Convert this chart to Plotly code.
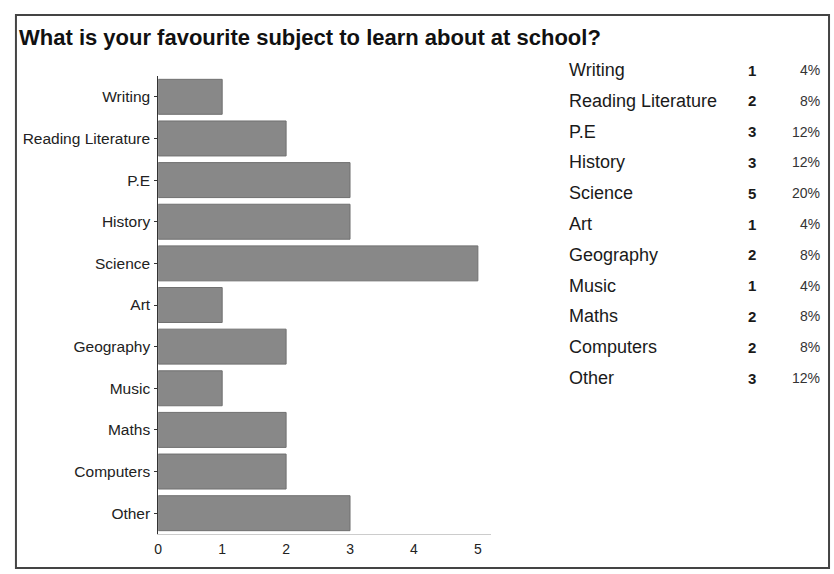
import plotly.graph_objects as go

subjects = ["Writing", "Reading Literature", "P.E", "History", "Science", "Art",
            "Geography", "Music", "Maths", "Computers", "Other"]
ylabels = ["Writing", "Reading Literature", "P.E", "History", "Science", "Art",
           "Geography", "Music", "Maths", "Computers", "Other"]
counts = [1, 2, 3, 3, 5, 1, 2, 1, 2, 2, 3]
percents = ["4%", "8%", "12%", "12%", "20%", "4%", "8%", "4%", "8%", "8%", "12%"]
xticks = [0, 1, 2, 3, 4, 5]
title = "What is your favourite subject to learn about at school?"

W, H = 834, 574
def px(x): return x / W
def py(y): return 1 - y / H

fig = go.Figure()
fig.add_trace(go.Bar(
    x=counts, y=ylabels, orientation="h",
    marker=dict(color="#888888", line=dict(color="#707070", width=1)),
    width=0.84, showlegend=False, hoverinfo="x+y",
))

font = "Liberation Sans, Arial, sans-serif"
ann = [dict(text="<b>" + title + "</b>", x=px(13), y=py(37), xref="paper", yref="paper",
            xanchor="left", yanchor="middle", showarrow=False,
            font=dict(family=font, size=22, color="#111"))]
row0, step = 70, 30.8
for i, (s, c, p) in enumerate(zip(subjects, counts, percents)):
    yy = py(row0 + i * step)
    ann.append(dict(text=s, x=px(566), y=yy, xref="paper", yref="paper", xanchor="left",
                    yanchor="middle", showarrow=False, font=dict(family=font, size=18, color="#1a1a1a")))
    ann.append(dict(text="<b>" + str(c) + "</b>", x=px(758), y=yy, xref="paper", yref="paper", xanchor="right",
                    yanchor="middle", showarrow=False, font=dict(family=font, size=15, color="#1a1a1a")))
    ann.append(dict(text=p, x=px(822), y=yy, xref="paper", yref="paper", xanchor="right",
                    yanchor="middle", showarrow=False, font=dict(family=font, size=14, color="#333")))

fig.update_layout(
    width=W, height=H, margin=dict(l=0, r=0, t=0, b=0),
    paper_bgcolor="white", plot_bgcolor="white",
    annotations=ann,
    shapes=[dict(type="rect", xref="paper", yref="paper", x0=px(12), x1=px(829),
                 y0=py(568), y1=py(15), line=dict(color="#444", width=2))],
    xaxis=dict(domain=[px(155), px(489)], range=[0, 5.2], tickvals=xticks,
               showgrid=False, zeroline=False, showline=True, linecolor="#cccccc",
               linewidth=1, ticks="", tickfont=dict(family=font, size=14, color="#222"),
               ticklabelstandoff=2),
    yaxis=dict(domain=[py(534), py(76)], autorange="reversed", showgrid=False,
               showline=True, linecolor="#333", linewidth=1, ticks="outside",
               ticklen=3, tickcolor="#333", ticklabelstandoff=1,
               tickfont=dict(family=font, size=15.5, color="#222")),
    bargap=0.16,
)
fig.write_html("out.html")
